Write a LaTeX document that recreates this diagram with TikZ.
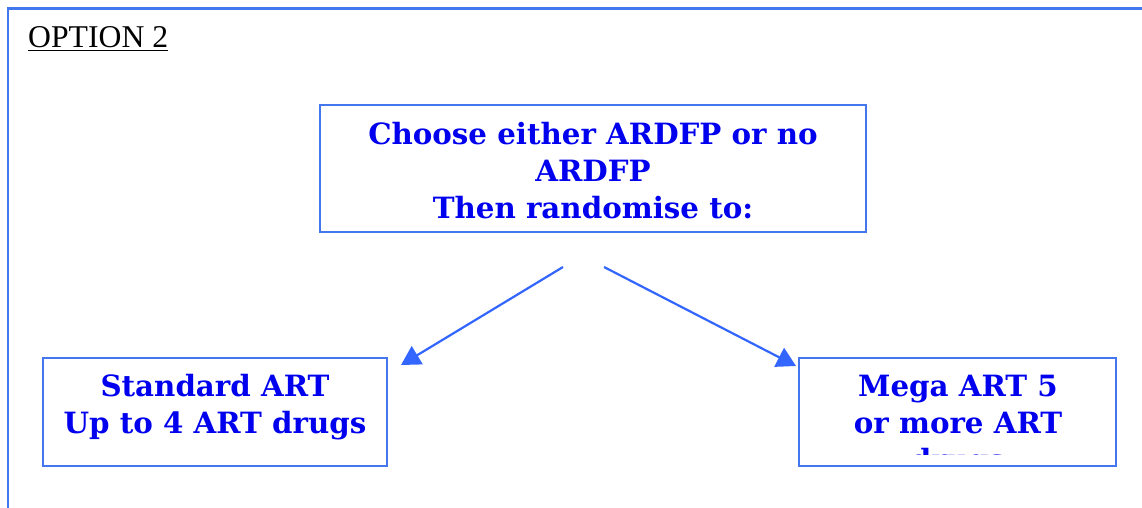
\documentclass[tikz,border=0pt]{standalone}
\usepackage{fontspec}
\setmainfont{Liberation Serif}
\newfontfamily\boxfont{DejaVu Serif}
\usetikzlibrary{arrows.meta}
\definecolor{boxblue}{RGB}{68,119,238}
\definecolor{arrowblue}{RGB}{51,102,255}
\definecolor{textblue}{RGB}{0,0,238}
\tikzset{
  box/.style={draw=boxblue, line width=2.4pt, fill=none, inner sep=0pt},
  txt/.style={text=textblue, align=center, inner sep=0pt,
    font=\boxfont\bfseries\fontsize{29.3}{37}\selectfont},
  arr/.style={draw=arrowblue, line width=2.2pt, -{Triangle[length=19pt,width=21pt]}}
}
\begin{document}
\begin{tikzpicture}[x=1pt,y=-1pt]
\useasboundingbox (0,0) rectangle (1142,508);
\draw[boxblue, line width=2.4pt] (8,508) -- (8,8.5) -- (1142,8.5);
\node[anchor=base west, inner sep=0pt, font=\fontsize{31.7}{36}\selectfont] (title) at (28,48) {\underline{OPTION 2}};
% top box
\node[box, minimum width=546pt, minimum height=127pt] (top) at (593,168.5) {};
\node[txt] (toptext) at (593,171) {Choose either ARDFP or no\\ARDFP\\Then randomise to:};
% left box
\node[box, minimum width=344pt, minimum height=108pt] (left) at (215,412) {};
\node[txt] (lefttext) at (215,407.5) {Standard ART\\Up to 4 ART drugs};
% right box
\node[box, minimum width=317pt, minimum height=108pt] (right) at (957.5,412) {};
\begin{scope}
\clip (799,358) rectangle (1116,454);
\node[txt] (righttext) at (958,426) {Mega ART 5\\or more ART\\drugs};
\end{scope}
% arrows
\coordinate (s1) at (563,267);
\coordinate (t1) at (401,365);
\coordinate (s2) at (604,267);
\coordinate (t2) at (796,366);
\draw[arr] (s1) -- (t1);
\draw[arr] (s2) -- (t2);
\end{tikzpicture}
\end{document}
